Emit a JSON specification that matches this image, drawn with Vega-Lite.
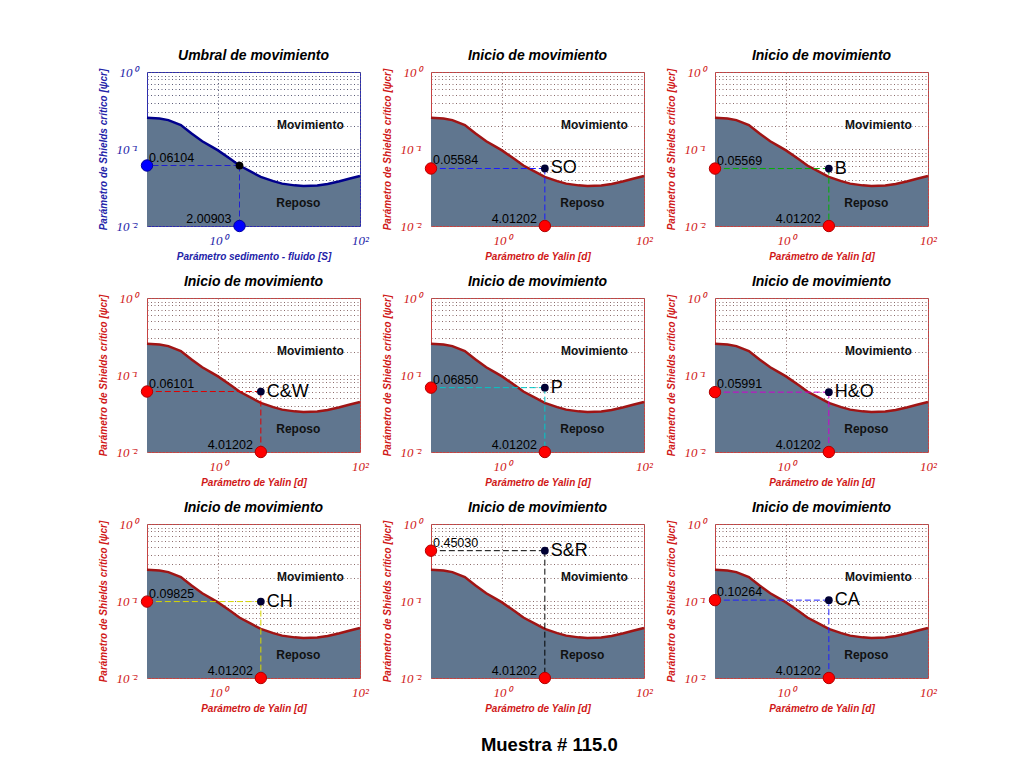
{
"$schema": "https://vega.github.io/schema/vega-lite/v6.json",
"background": "white",
"padding": {"left": 97, "top": 48, "right": 5, "bottom": 5},
"title": {"text": "Muestra # 115.0", "orient": "bottom", "anchor": "middle", "fontSize": 18.5, "fontStyle": "normal", "fontWeight": "bold", "offset": 22, "dx": 32},
"datasets": {
 "curve": [
  {"x": 0.1, "y": 0.255}, {"x": 0.15, "y": 0.249}, {"x": 0.2, "y": 0.237}, {"x": 0.3, "y": 0.205},
  {"x": 0.42, "y": 0.16}, {"x": 0.6, "y": 0.126}, {"x": 0.8, "y": 0.108}, {"x": 1.0, "y": 0.096},
  {"x": 1.5, "y": 0.074}, {"x": 2.0, "y": 0.061}, {"x": 3.0, "y": 0.05}, {"x": 4.0, "y": 0.0435},
  {"x": 6, "y": 0.0383}, {"x": 8, "y": 0.0355}, {"x": 12, "y": 0.0337}, {"x": 16, "y": 0.0331},
  {"x": 25, "y": 0.0335}, {"x": 35, "y": 0.0352}, {"x": 50, "y": 0.0378}, {"x": 70, "y": 0.041},
  {"x": 100, "y": 0.0446}
 ],
 "zones": [
  {"x": 20, "y": 0.205, "t": "Movimiento"},
  {"x": 13.5, "y": 0.0198, "t": "Reposo"}
 ],
 "pts": [
  {"p": 1, "x": 2.00903, "y": 0.06104, "name": ""},
  {"p": 2, "x": 4.01202, "y": 0.05584, "name": "SO"},
  {"p": 3, "x": 4.01202, "y": 0.05569, "name": "B"},
  {"p": 4, "x": 4.01202, "y": 0.06101, "name": "C&W"},
  {"p": 5, "x": 4.01202, "y": 0.0685, "name": "P"},
  {"p": 6, "x": 4.01202, "y": 0.05991, "name": "H&O"},
  {"p": 7, "x": 4.01202, "y": 0.09825, "name": "CH"},
  {"p": 8, "x": 4.01202, "y": 0.4503, "name": "S&R"},
  {"p": 9, "x": 4.01202, "y": 0.10264, "name": "CA"}
 ]
},
"columns": 3,
"spacing": {"row": 72, "column": 71},
"bounds": "flush",
"concat": [
{"width": 213, "height": 154, "title": "Umbral de movimiento", "view": {"stroke": "#2a2ab0"},
 "layer": [
  {"data": {"name": "curve"}, "mark": {"type": "area", "color": "#60768f", "opacity": 1},
   "encoding": {
    "x": {"field": "x", "type": "quantitative", "scale": {"type": "log", "domain": [0.1, 100]}, "axis": {"title": "Parámetro sedimento - fluido [S]", "values": [1, 100], "labelExpr": "datum.value == 1 ? '10⁰' : '10²'", "grid": true, "labelColor": "#2323a8", "titleColor": "#2323a8", "gridColor": "#5c5c78"}},
    "y": {"field": "y", "type": "quantitative", "scale": {"type": "log", "domain": [0.01, 1]}, "axis": {"title": "Parámetro de Shields crítico [ψcr]", "values": [0.01,0.02,0.03,0.04,0.05,0.06,0.07,0.08,0.09,0.1,0.2,0.3,0.4,0.5,0.6,0.7,0.8,0.9,1], "labelExpr": "datum.value == 1 ? '10⁰' : datum.value == 0.1 ? '10⁻¹' : datum.value == 0.01 ? '10⁻²' : ''", "grid": true, "labelColor": "#2323a8", "titleColor": "#2323a8", "gridColor": "#5c5c78"}},
    "y2": {"datum": 0.01}}},
  {"data": {"name": "curve"}, "mark": {"type": "line", "color": "#00008c", "strokeWidth": 2.5}, "encoding": {"x": {"field": "x", "type": "quantitative"}, "y": {"field": "y", "type": "quantitative"}}},
  {"data": {"name": "zones"}, "mark": {"type": "text", "fontWeight": "bold", "fontSize": 12, "color": "#111"}, "encoding": {"x": {"field": "x", "type": "quantitative"}, "y": {"field": "y", "type": "quantitative"}, "text": {"field": "t", "type": "nominal"}}},
  {"data": {"name": "pts"}, "transform": [{"filter": "datum.p == 1"}], "mark": {"type": "rule", "color": "#2020d0", "strokeDash": [6, 3], "strokeWidth": 1}, "encoding": {"x": {"field": "x", "type": "quantitative"}, "x2": {"datum": 0.1}, "y": {"field": "y", "type": "quantitative"}}},
  {"data": {"name": "pts"}, "transform": [{"filter": "datum.p == 1"}], "mark": {"type": "rule", "color": "#2020d0", "strokeDash": [6, 3], "strokeWidth": 1}, "encoding": {"x": {"field": "x", "type": "quantitative"}, "y": {"field": "y", "type": "quantitative"}, "y2": {"datum": 0.01}}},
  {"data": {"name": "pts"}, "transform": [{"filter": "datum.p == 1"}], "mark": {"type": "circle", "color": "#0000ff", "size": 130, "opacity": 1, "stroke": "#0000a0", "strokeWidth": 1}, "encoding": {"x": {"datum": 0.1, "type": "quantitative"}, "y": {"field": "y", "type": "quantitative"}}},
  {"data": {"name": "pts"}, "transform": [{"filter": "datum.p == 1"}], "mark": {"type": "circle", "color": "#0000ff", "size": 130, "opacity": 1, "stroke": "#0000a0", "strokeWidth": 1}, "encoding": {"x": {"field": "x", "type": "quantitative"}, "y": {"datum": 0.01, "type": "quantitative"}}},
  {"data": {"name": "pts"}, "transform": [{"filter": "datum.p == 1"}], "mark": {"type": "circle", "color": "#000000", "size": 60, "opacity": 1}, "encoding": {"x": {"field": "x", "type": "quantitative"}, "y": {"field": "y", "type": "quantitative"}}},
  {"data": {"name": "pts"}, "transform": [{"filter": "datum.p == 1"}], "mark": {"type": "text", "align": "left", "baseline": "bottom", "dx": 2, "dy": -1, "fontSize": 12.5, "color": "#000"}, "encoding": {"x": {"datum": 0.1, "type": "quantitative"}, "y": {"field": "y", "type": "quantitative"}, "text": {"field": "y", "type": "quantitative", "format": ".5f"}}},
  {"data": {"name": "pts"}, "transform": [{"filter": "datum.p == 1"}], "mark": {"type": "text", "align": "right", "baseline": "bottom", "dx": -8, "dy": 0, "fontSize": 12.5, "color": "#000"}, "encoding": {"x": {"field": "x", "type": "quantitative"}, "y": {"datum": 0.01, "type": "quantitative"}, "text": {"field": "x", "type": "quantitative", "format": ".5f"}}}
 ]},
{"width": 213, "height": 154, "title": "Inicio de movimiento",
 "layer": [
  {"data": {"name": "curve"}, "mark": {"type": "area", "color": "#60768f", "opacity": 1},
   "encoding": {
    "x": {"field": "x", "type": "quantitative", "scale": {"type": "log", "domain": [0.1, 100]}, "axis": {"title": "Parámetro de Yalin [d]", "values": [1, 100], "labelExpr": "datum.value == 1 ? '10⁰' : '10²'", "grid": true}},
    "y": {"field": "y", "type": "quantitative", "scale": {"type": "log", "domain": [0.01, 1]}, "axis": {"title": "Parámetro de Shields crítico [ψcr]", "values": [0.01,0.02,0.03,0.04,0.05,0.06,0.07,0.08,0.09,0.1,0.2,0.3,0.4,0.5,0.6,0.7,0.8,0.9,1], "labelExpr": "datum.value == 1 ? '10⁰' : datum.value == 0.1 ? '10⁻¹' : datum.value == 0.01 ? '10⁻²' : ''", "grid": true}},
    "y2": {"datum": 0.01}}},
  {"data": {"name": "curve"}, "mark": {"type": "line", "color": "#a01414", "strokeWidth": 2.5}, "encoding": {"x": {"field": "x", "type": "quantitative"}, "y": {"field": "y", "type": "quantitative"}}},
  {"data": {"name": "zones"}, "mark": {"type": "text", "fontWeight": "bold", "fontSize": 12, "color": "#111"}, "encoding": {"x": {"field": "x", "type": "quantitative"}, "y": {"field": "y", "type": "quantitative"}, "text": {"field": "t", "type": "nominal"}}},
  {"data": {"name": "pts"}, "transform": [{"filter": "datum.p == 2"}], "mark": {"type": "rule", "color": "#1a1aff", "strokeDash": [6, 3], "strokeWidth": 1}, "encoding": {"x": {"field": "x", "type": "quantitative"}, "x2": {"datum": 0.1}, "y": {"field": "y", "type": "quantitative"}}},
  {"data": {"name": "pts"}, "transform": [{"filter": "datum.p == 2"}], "mark": {"type": "rule", "color": "#1a1aff", "strokeDash": [6, 3], "strokeWidth": 1}, "encoding": {"x": {"field": "x", "type": "quantitative"}, "y": {"field": "y", "type": "quantitative"}, "y2": {"datum": 0.01}}},
  {"data": {"name": "pts"}, "transform": [{"filter": "datum.p == 2"}], "mark": {"type": "circle", "color": "#ff0000", "size": 130, "opacity": 1, "stroke": "#b00000", "strokeWidth": 1}, "encoding": {"x": {"datum": 0.1, "type": "quantitative"}, "y": {"field": "y", "type": "quantitative"}}},
  {"data": {"name": "pts"}, "transform": [{"filter": "datum.p == 2"}], "mark": {"type": "circle", "color": "#ff0000", "size": 130, "opacity": 1, "stroke": "#b00000", "strokeWidth": 1}, "encoding": {"x": {"field": "x", "type": "quantitative"}, "y": {"datum": 0.01, "type": "quantitative"}}},
  {"data": {"name": "pts"}, "transform": [{"filter": "datum.p == 2"}], "mark": {"type": "circle", "color": "#000033", "size": 60, "opacity": 1}, "encoding": {"x": {"field": "x", "type": "quantitative"}, "y": {"field": "y", "type": "quantitative"}}},
  {"data": {"name": "pts"}, "transform": [{"filter": "datum.p == 2"}], "mark": {"type": "text", "align": "left", "dx": 6, "fontSize": 18, "color": "#000"}, "encoding": {"x": {"field": "x", "type": "quantitative"}, "y": {"field": "y", "type": "quantitative"}, "text": {"field": "name", "type": "nominal"}}},
  {"data": {"name": "pts"}, "transform": [{"filter": "datum.p == 2"}], "mark": {"type": "text", "align": "left", "baseline": "bottom", "dx": 2, "dy": -1, "fontSize": 12.5, "color": "#000"}, "encoding": {"x": {"datum": 0.1, "type": "quantitative"}, "y": {"field": "y", "type": "quantitative"}, "text": {"field": "y", "type": "quantitative", "format": ".5f"}}},
  {"data": {"name": "pts"}, "transform": [{"filter": "datum.p == 2"}], "mark": {"type": "text", "align": "right", "baseline": "bottom", "dx": -8, "dy": 0, "fontSize": 12.5, "color": "#000"}, "encoding": {"x": {"field": "x", "type": "quantitative"}, "y": {"datum": 0.01, "type": "quantitative"}, "text": {"field": "x", "type": "quantitative", "format": ".5f"}}}
 ]},
{"width": 213, "height": 154, "title": "Inicio de movimiento",
 "layer": [
  {"data": {"name": "curve"}, "mark": {"type": "area", "color": "#60768f", "opacity": 1},
   "encoding": {
    "x": {"field": "x", "type": "quantitative", "scale": {"type": "log", "domain": [0.1, 100]}, "axis": {"title": "Parámetro de Yalin [d]", "values": [1, 100], "labelExpr": "datum.value == 1 ? '10⁰' : '10²'", "grid": true}},
    "y": {"field": "y", "type": "quantitative", "scale": {"type": "log", "domain": [0.01, 1]}, "axis": {"title": "Parámetro de Shields crítico [ψcr]", "values": [0.01,0.02,0.03,0.04,0.05,0.06,0.07,0.08,0.09,0.1,0.2,0.3,0.4,0.5,0.6,0.7,0.8,0.9,1], "labelExpr": "datum.value == 1 ? '10⁰' : datum.value == 0.1 ? '10⁻¹' : datum.value == 0.01 ? '10⁻²' : ''", "grid": true}},
    "y2": {"datum": 0.01}}},
  {"data": {"name": "curve"}, "mark": {"type": "line", "color": "#a01414", "strokeWidth": 2.5}, "encoding": {"x": {"field": "x", "type": "quantitative"}, "y": {"field": "y", "type": "quantitative"}}},
  {"data": {"name": "zones"}, "mark": {"type": "text", "fontWeight": "bold", "fontSize": 12, "color": "#111"}, "encoding": {"x": {"field": "x", "type": "quantitative"}, "y": {"field": "y", "type": "quantitative"}, "text": {"field": "t", "type": "nominal"}}},
  {"data": {"name": "pts"}, "transform": [{"filter": "datum.p == 3"}], "mark": {"type": "rule", "color": "#00b000", "strokeDash": [6, 3], "strokeWidth": 1}, "encoding": {"x": {"field": "x", "type": "quantitative"}, "x2": {"datum": 0.1}, "y": {"field": "y", "type": "quantitative"}}},
  {"data": {"name": "pts"}, "transform": [{"filter": "datum.p == 3"}], "mark": {"type": "rule", "color": "#00b000", "strokeDash": [6, 3], "strokeWidth": 1}, "encoding": {"x": {"field": "x", "type": "quantitative"}, "y": {"field": "y", "type": "quantitative"}, "y2": {"datum": 0.01}}},
  {"data": {"name": "pts"}, "transform": [{"filter": "datum.p == 3"}], "mark": {"type": "circle", "color": "#ff0000", "size": 130, "opacity": 1, "stroke": "#b00000", "strokeWidth": 1}, "encoding": {"x": {"datum": 0.1, "type": "quantitative"}, "y": {"field": "y", "type": "quantitative"}}},
  {"data": {"name": "pts"}, "transform": [{"filter": "datum.p == 3"}], "mark": {"type": "circle", "color": "#ff0000", "size": 130, "opacity": 1, "stroke": "#b00000", "strokeWidth": 1}, "encoding": {"x": {"field": "x", "type": "quantitative"}, "y": {"datum": 0.01, "type": "quantitative"}}},
  {"data": {"name": "pts"}, "transform": [{"filter": "datum.p == 3"}], "mark": {"type": "circle", "color": "#000033", "size": 60, "opacity": 1}, "encoding": {"x": {"field": "x", "type": "quantitative"}, "y": {"field": "y", "type": "quantitative"}}},
  {"data": {"name": "pts"}, "transform": [{"filter": "datum.p == 3"}], "mark": {"type": "text", "align": "left", "dx": 6, "fontSize": 18, "color": "#000"}, "encoding": {"x": {"field": "x", "type": "quantitative"}, "y": {"field": "y", "type": "quantitative"}, "text": {"field": "name", "type": "nominal"}}},
  {"data": {"name": "pts"}, "transform": [{"filter": "datum.p == 3"}], "mark": {"type": "text", "align": "left", "baseline": "bottom", "dx": 2, "dy": -1, "fontSize": 12.5, "color": "#000"}, "encoding": {"x": {"datum": 0.1, "type": "quantitative"}, "y": {"field": "y", "type": "quantitative"}, "text": {"field": "y", "type": "quantitative", "format": ".5f"}}},
  {"data": {"name": "pts"}, "transform": [{"filter": "datum.p == 3"}], "mark": {"type": "text", "align": "right", "baseline": "bottom", "dx": -8, "dy": 0, "fontSize": 12.5, "color": "#000"}, "encoding": {"x": {"field": "x", "type": "quantitative"}, "y": {"datum": 0.01, "type": "quantitative"}, "text": {"field": "x", "type": "quantitative", "format": ".5f"}}}
 ]},
{"width": 213, "height": 154, "title": "Inicio de movimiento",
 "layer": [
  {"data": {"name": "curve"}, "mark": {"type": "area", "color": "#60768f", "opacity": 1},
   "encoding": {
    "x": {"field": "x", "type": "quantitative", "scale": {"type": "log", "domain": [0.1, 100]}, "axis": {"title": "Parámetro de Yalin [d]", "values": [1, 100], "labelExpr": "datum.value == 1 ? '10⁰' : '10²'", "grid": true}},
    "y": {"field": "y", "type": "quantitative", "scale": {"type": "log", "domain": [0.01, 1]}, "axis": {"title": "Parámetro de Shields crítico [ψcr]", "values": [0.01,0.02,0.03,0.04,0.05,0.06,0.07,0.08,0.09,0.1,0.2,0.3,0.4,0.5,0.6,0.7,0.8,0.9,1], "labelExpr": "datum.value == 1 ? '10⁰' : datum.value == 0.1 ? '10⁻¹' : datum.value == 0.01 ? '10⁻²' : ''", "grid": true}},
    "y2": {"datum": 0.01}}},
  {"data": {"name": "curve"}, "mark": {"type": "line", "color": "#a01414", "strokeWidth": 2.5}, "encoding": {"x": {"field": "x", "type": "quantitative"}, "y": {"field": "y", "type": "quantitative"}}},
  {"data": {"name": "zones"}, "mark": {"type": "text", "fontWeight": "bold", "fontSize": 12, "color": "#111"}, "encoding": {"x": {"field": "x", "type": "quantitative"}, "y": {"field": "y", "type": "quantitative"}, "text": {"field": "t", "type": "nominal"}}},
  {"data": {"name": "pts"}, "transform": [{"filter": "datum.p == 4"}], "mark": {"type": "rule", "color": "#e00000", "strokeDash": [6, 3], "strokeWidth": 1}, "encoding": {"x": {"field": "x", "type": "quantitative"}, "x2": {"datum": 0.1}, "y": {"field": "y", "type": "quantitative"}}},
  {"data": {"name": "pts"}, "transform": [{"filter": "datum.p == 4"}], "mark": {"type": "rule", "color": "#e00000", "strokeDash": [6, 3], "strokeWidth": 1}, "encoding": {"x": {"field": "x", "type": "quantitative"}, "y": {"field": "y", "type": "quantitative"}, "y2": {"datum": 0.01}}},
  {"data": {"name": "pts"}, "transform": [{"filter": "datum.p == 4"}], "mark": {"type": "circle", "color": "#ff0000", "size": 130, "opacity": 1, "stroke": "#b00000", "strokeWidth": 1}, "encoding": {"x": {"datum": 0.1, "type": "quantitative"}, "y": {"field": "y", "type": "quantitative"}}},
  {"data": {"name": "pts"}, "transform": [{"filter": "datum.p == 4"}], "mark": {"type": "circle", "color": "#ff0000", "size": 130, "opacity": 1, "stroke": "#b00000", "strokeWidth": 1}, "encoding": {"x": {"field": "x", "type": "quantitative"}, "y": {"datum": 0.01, "type": "quantitative"}}},
  {"data": {"name": "pts"}, "transform": [{"filter": "datum.p == 4"}], "mark": {"type": "circle", "color": "#000033", "size": 60, "opacity": 1}, "encoding": {"x": {"field": "x", "type": "quantitative"}, "y": {"field": "y", "type": "quantitative"}}},
  {"data": {"name": "pts"}, "transform": [{"filter": "datum.p == 4"}], "mark": {"type": "text", "align": "left", "dx": 6, "fontSize": 18, "color": "#000"}, "encoding": {"x": {"field": "x", "type": "quantitative"}, "y": {"field": "y", "type": "quantitative"}, "text": {"field": "name", "type": "nominal"}}},
  {"data": {"name": "pts"}, "transform": [{"filter": "datum.p == 4"}], "mark": {"type": "text", "align": "left", "baseline": "bottom", "dx": 2, "dy": -1, "fontSize": 12.5, "color": "#000"}, "encoding": {"x": {"datum": 0.1, "type": "quantitative"}, "y": {"field": "y", "type": "quantitative"}, "text": {"field": "y", "type": "quantitative", "format": ".5f"}}},
  {"data": {"name": "pts"}, "transform": [{"filter": "datum.p == 4"}], "mark": {"type": "text", "align": "right", "baseline": "bottom", "dx": -8, "dy": 0, "fontSize": 12.5, "color": "#000"}, "encoding": {"x": {"field": "x", "type": "quantitative"}, "y": {"datum": 0.01, "type": "quantitative"}, "text": {"field": "x", "type": "quantitative", "format": ".5f"}}}
 ]},
{"width": 213, "height": 154, "title": "Inicio de movimiento",
 "layer": [
  {"data": {"name": "curve"}, "mark": {"type": "area", "color": "#60768f", "opacity": 1},
   "encoding": {
    "x": {"field": "x", "type": "quantitative", "scale": {"type": "log", "domain": [0.1, 100]}, "axis": {"title": "Parámetro de Yalin [d]", "values": [1, 100], "labelExpr": "datum.value == 1 ? '10⁰' : '10²'", "grid": true}},
    "y": {"field": "y", "type": "quantitative", "scale": {"type": "log", "domain": [0.01, 1]}, "axis": {"title": "Parámetro de Shields crítico [ψcr]", "values": [0.01,0.02,0.03,0.04,0.05,0.06,0.07,0.08,0.09,0.1,0.2,0.3,0.4,0.5,0.6,0.7,0.8,0.9,1], "labelExpr": "datum.value == 1 ? '10⁰' : datum.value == 0.1 ? '10⁻¹' : datum.value == 0.01 ? '10⁻²' : ''", "grid": true}},
    "y2": {"datum": 0.01}}},
  {"data": {"name": "curve"}, "mark": {"type": "line", "color": "#a01414", "strokeWidth": 2.5}, "encoding": {"x": {"field": "x", "type": "quantitative"}, "y": {"field": "y", "type": "quantitative"}}},
  {"data": {"name": "zones"}, "mark": {"type": "text", "fontWeight": "bold", "fontSize": 12, "color": "#111"}, "encoding": {"x": {"field": "x", "type": "quantitative"}, "y": {"field": "y", "type": "quantitative"}, "text": {"field": "t", "type": "nominal"}}},
  {"data": {"name": "pts"}, "transform": [{"filter": "datum.p == 5"}], "mark": {"type": "rule", "color": "#00c8c8", "strokeDash": [6, 3], "strokeWidth": 1}, "encoding": {"x": {"field": "x", "type": "quantitative"}, "x2": {"datum": 0.1}, "y": {"field": "y", "type": "quantitative"}}},
  {"data": {"name": "pts"}, "transform": [{"filter": "datum.p == 5"}], "mark": {"type": "rule", "color": "#00c8c8", "strokeDash": [6, 3], "strokeWidth": 1}, "encoding": {"x": {"field": "x", "type": "quantitative"}, "y": {"field": "y", "type": "quantitative"}, "y2": {"datum": 0.01}}},
  {"data": {"name": "pts"}, "transform": [{"filter": "datum.p == 5"}], "mark": {"type": "circle", "color": "#ff0000", "size": 130, "opacity": 1, "stroke": "#b00000", "strokeWidth": 1}, "encoding": {"x": {"datum": 0.1, "type": "quantitative"}, "y": {"field": "y", "type": "quantitative"}}},
  {"data": {"name": "pts"}, "transform": [{"filter": "datum.p == 5"}], "mark": {"type": "circle", "color": "#ff0000", "size": 130, "opacity": 1, "stroke": "#b00000", "strokeWidth": 1}, "encoding": {"x": {"field": "x", "type": "quantitative"}, "y": {"datum": 0.01, "type": "quantitative"}}},
  {"data": {"name": "pts"}, "transform": [{"filter": "datum.p == 5"}], "mark": {"type": "circle", "color": "#000033", "size": 60, "opacity": 1}, "encoding": {"x": {"field": "x", "type": "quantitative"}, "y": {"field": "y", "type": "quantitative"}}},
  {"data": {"name": "pts"}, "transform": [{"filter": "datum.p == 5"}], "mark": {"type": "text", "align": "left", "dx": 6, "fontSize": 18, "color": "#000"}, "encoding": {"x": {"field": "x", "type": "quantitative"}, "y": {"field": "y", "type": "quantitative"}, "text": {"field": "name", "type": "nominal"}}},
  {"data": {"name": "pts"}, "transform": [{"filter": "datum.p == 5"}], "mark": {"type": "text", "align": "left", "baseline": "bottom", "dx": 2, "dy": -1, "fontSize": 12.5, "color": "#000"}, "encoding": {"x": {"datum": 0.1, "type": "quantitative"}, "y": {"field": "y", "type": "quantitative"}, "text": {"field": "y", "type": "quantitative", "format": ".5f"}}},
  {"data": {"name": "pts"}, "transform": [{"filter": "datum.p == 5"}], "mark": {"type": "text", "align": "right", "baseline": "bottom", "dx": -8, "dy": 0, "fontSize": 12.5, "color": "#000"}, "encoding": {"x": {"field": "x", "type": "quantitative"}, "y": {"datum": 0.01, "type": "quantitative"}, "text": {"field": "x", "type": "quantitative", "format": ".5f"}}}
 ]},
{"width": 213, "height": 154, "title": "Inicio de movimiento",
 "layer": [
  {"data": {"name": "curve"}, "mark": {"type": "area", "color": "#60768f", "opacity": 1},
   "encoding": {
    "x": {"field": "x", "type": "quantitative", "scale": {"type": "log", "domain": [0.1, 100]}, "axis": {"title": "Parámetro de Yalin [d]", "values": [1, 100], "labelExpr": "datum.value == 1 ? '10⁰' : '10²'", "grid": true}},
    "y": {"field": "y", "type": "quantitative", "scale": {"type": "log", "domain": [0.01, 1]}, "axis": {"title": "Parámetro de Shields crítico [ψcr]", "values": [0.01,0.02,0.03,0.04,0.05,0.06,0.07,0.08,0.09,0.1,0.2,0.3,0.4,0.5,0.6,0.7,0.8,0.9,1], "labelExpr": "datum.value == 1 ? '10⁰' : datum.value == 0.1 ? '10⁻¹' : datum.value == 0.01 ? '10⁻²' : ''", "grid": true}},
    "y2": {"datum": 0.01}}},
  {"data": {"name": "curve"}, "mark": {"type": "line", "color": "#a01414", "strokeWidth": 2.5}, "encoding": {"x": {"field": "x", "type": "quantitative"}, "y": {"field": "y", "type": "quantitative"}}},
  {"data": {"name": "zones"}, "mark": {"type": "text", "fontWeight": "bold", "fontSize": 12, "color": "#111"}, "encoding": {"x": {"field": "x", "type": "quantitative"}, "y": {"field": "y", "type": "quantitative"}, "text": {"field": "t", "type": "nominal"}}},
  {"data": {"name": "pts"}, "transform": [{"filter": "datum.p == 6"}], "mark": {"type": "rule", "color": "#d000d0", "strokeDash": [6, 3], "strokeWidth": 1}, "encoding": {"x": {"field": "x", "type": "quantitative"}, "x2": {"datum": 0.1}, "y": {"field": "y", "type": "quantitative"}}},
  {"data": {"name": "pts"}, "transform": [{"filter": "datum.p == 6"}], "mark": {"type": "rule", "color": "#d000d0", "strokeDash": [6, 3], "strokeWidth": 1}, "encoding": {"x": {"field": "x", "type": "quantitative"}, "y": {"field": "y", "type": "quantitative"}, "y2": {"datum": 0.01}}},
  {"data": {"name": "pts"}, "transform": [{"filter": "datum.p == 6"}], "mark": {"type": "circle", "color": "#ff0000", "size": 130, "opacity": 1, "stroke": "#b00000", "strokeWidth": 1}, "encoding": {"x": {"datum": 0.1, "type": "quantitative"}, "y": {"field": "y", "type": "quantitative"}}},
  {"data": {"name": "pts"}, "transform": [{"filter": "datum.p == 6"}], "mark": {"type": "circle", "color": "#ff0000", "size": 130, "opacity": 1, "stroke": "#b00000", "strokeWidth": 1}, "encoding": {"x": {"field": "x", "type": "quantitative"}, "y": {"datum": 0.01, "type": "quantitative"}}},
  {"data": {"name": "pts"}, "transform": [{"filter": "datum.p == 6"}], "mark": {"type": "circle", "color": "#000033", "size": 60, "opacity": 1}, "encoding": {"x": {"field": "x", "type": "quantitative"}, "y": {"field": "y", "type": "quantitative"}}},
  {"data": {"name": "pts"}, "transform": [{"filter": "datum.p == 6"}], "mark": {"type": "text", "align": "left", "dx": 6, "fontSize": 18, "color": "#000"}, "encoding": {"x": {"field": "x", "type": "quantitative"}, "y": {"field": "y", "type": "quantitative"}, "text": {"field": "name", "type": "nominal"}}},
  {"data": {"name": "pts"}, "transform": [{"filter": "datum.p == 6"}], "mark": {"type": "text", "align": "left", "baseline": "bottom", "dx": 2, "dy": -1, "fontSize": 12.5, "color": "#000"}, "encoding": {"x": {"datum": 0.1, "type": "quantitative"}, "y": {"field": "y", "type": "quantitative"}, "text": {"field": "y", "type": "quantitative", "format": ".5f"}}},
  {"data": {"name": "pts"}, "transform": [{"filter": "datum.p == 6"}], "mark": {"type": "text", "align": "right", "baseline": "bottom", "dx": -8, "dy": 0, "fontSize": 12.5, "color": "#000"}, "encoding": {"x": {"field": "x", "type": "quantitative"}, "y": {"datum": 0.01, "type": "quantitative"}, "text": {"field": "x", "type": "quantitative", "format": ".5f"}}}
 ]},
{"width": 213, "height": 154, "title": "Inicio de movimiento",
 "layer": [
  {"data": {"name": "curve"}, "mark": {"type": "area", "color": "#60768f", "opacity": 1},
   "encoding": {
    "x": {"field": "x", "type": "quantitative", "scale": {"type": "log", "domain": [0.1, 100]}, "axis": {"title": "Parámetro de Yalin [d]", "values": [1, 100], "labelExpr": "datum.value == 1 ? '10⁰' : '10²'", "grid": true}},
    "y": {"field": "y", "type": "quantitative", "scale": {"type": "log", "domain": [0.01, 1]}, "axis": {"title": "Parámetro de Shields crítico [ψcr]", "values": [0.01,0.02,0.03,0.04,0.05,0.06,0.07,0.08,0.09,0.1,0.2,0.3,0.4,0.5,0.6,0.7,0.8,0.9,1], "labelExpr": "datum.value == 1 ? '10⁰' : datum.value == 0.1 ? '10⁻¹' : datum.value == 0.01 ? '10⁻²' : ''", "grid": true}},
    "y2": {"datum": 0.01}}},
  {"data": {"name": "curve"}, "mark": {"type": "line", "color": "#a01414", "strokeWidth": 2.5}, "encoding": {"x": {"field": "x", "type": "quantitative"}, "y": {"field": "y", "type": "quantitative"}}},
  {"data": {"name": "zones"}, "mark": {"type": "text", "fontWeight": "bold", "fontSize": 12, "color": "#111"}, "encoding": {"x": {"field": "x", "type": "quantitative"}, "y": {"field": "y", "type": "quantitative"}, "text": {"field": "t", "type": "nominal"}}},
  {"data": {"name": "pts"}, "transform": [{"filter": "datum.p == 7"}], "mark": {"type": "rule", "color": "#d8d800", "strokeDash": [6, 3], "strokeWidth": 1}, "encoding": {"x": {"field": "x", "type": "quantitative"}, "x2": {"datum": 0.1}, "y": {"field": "y", "type": "quantitative"}}},
  {"data": {"name": "pts"}, "transform": [{"filter": "datum.p == 7"}], "mark": {"type": "rule", "color": "#d8d800", "strokeDash": [6, 3], "strokeWidth": 1}, "encoding": {"x": {"field": "x", "type": "quantitative"}, "y": {"field": "y", "type": "quantitative"}, "y2": {"datum": 0.01}}},
  {"data": {"name": "pts"}, "transform": [{"filter": "datum.p == 7"}], "mark": {"type": "circle", "color": "#ff0000", "size": 130, "opacity": 1, "stroke": "#b00000", "strokeWidth": 1}, "encoding": {"x": {"datum": 0.1, "type": "quantitative"}, "y": {"field": "y", "type": "quantitative"}}},
  {"data": {"name": "pts"}, "transform": [{"filter": "datum.p == 7"}], "mark": {"type": "circle", "color": "#ff0000", "size": 130, "opacity": 1, "stroke": "#b00000", "strokeWidth": 1}, "encoding": {"x": {"field": "x", "type": "quantitative"}, "y": {"datum": 0.01, "type": "quantitative"}}},
  {"data": {"name": "pts"}, "transform": [{"filter": "datum.p == 7"}], "mark": {"type": "circle", "color": "#000033", "size": 60, "opacity": 1}, "encoding": {"x": {"field": "x", "type": "quantitative"}, "y": {"field": "y", "type": "quantitative"}}},
  {"data": {"name": "pts"}, "transform": [{"filter": "datum.p == 7"}], "mark": {"type": "text", "align": "left", "dx": 6, "fontSize": 18, "color": "#000"}, "encoding": {"x": {"field": "x", "type": "quantitative"}, "y": {"field": "y", "type": "quantitative"}, "text": {"field": "name", "type": "nominal"}}},
  {"data": {"name": "pts"}, "transform": [{"filter": "datum.p == 7"}], "mark": {"type": "text", "align": "left", "baseline": "bottom", "dx": 2, "dy": -1, "fontSize": 12.5, "color": "#000"}, "encoding": {"x": {"datum": 0.1, "type": "quantitative"}, "y": {"field": "y", "type": "quantitative"}, "text": {"field": "y", "type": "quantitative", "format": ".5f"}}},
  {"data": {"name": "pts"}, "transform": [{"filter": "datum.p == 7"}], "mark": {"type": "text", "align": "right", "baseline": "bottom", "dx": -8, "dy": 0, "fontSize": 12.5, "color": "#000"}, "encoding": {"x": {"field": "x", "type": "quantitative"}, "y": {"datum": 0.01, "type": "quantitative"}, "text": {"field": "x", "type": "quantitative", "format": ".5f"}}}
 ]},
{"width": 213, "height": 154, "title": "Inicio de movimiento",
 "layer": [
  {"data": {"name": "curve"}, "mark": {"type": "area", "color": "#60768f", "opacity": 1},
   "encoding": {
    "x": {"field": "x", "type": "quantitative", "scale": {"type": "log", "domain": [0.1, 100]}, "axis": {"title": "Parámetro de Yalin [d]", "values": [1, 100], "labelExpr": "datum.value == 1 ? '10⁰' : '10²'", "grid": true}},
    "y": {"field": "y", "type": "quantitative", "scale": {"type": "log", "domain": [0.01, 1]}, "axis": {"title": "Parámetro de Shields crítico [ψcr]", "values": [0.01,0.02,0.03,0.04,0.05,0.06,0.07,0.08,0.09,0.1,0.2,0.3,0.4,0.5,0.6,0.7,0.8,0.9,1], "labelExpr": "datum.value == 1 ? '10⁰' : datum.value == 0.1 ? '10⁻¹' : datum.value == 0.01 ? '10⁻²' : ''", "grid": true}},
    "y2": {"datum": 0.01}}},
  {"data": {"name": "curve"}, "mark": {"type": "line", "color": "#a01414", "strokeWidth": 2.5}, "encoding": {"x": {"field": "x", "type": "quantitative"}, "y": {"field": "y", "type": "quantitative"}}},
  {"data": {"name": "zones"}, "mark": {"type": "text", "fontWeight": "bold", "fontSize": 12, "color": "#111"}, "encoding": {"x": {"field": "x", "type": "quantitative"}, "y": {"field": "y", "type": "quantitative"}, "text": {"field": "t", "type": "nominal"}}},
  {"data": {"name": "pts"}, "transform": [{"filter": "datum.p == 8"}], "mark": {"type": "rule", "color": "#000000", "strokeDash": [6, 3], "strokeWidth": 1}, "encoding": {"x": {"field": "x", "type": "quantitative"}, "x2": {"datum": 0.1}, "y": {"field": "y", "type": "quantitative"}}},
  {"data": {"name": "pts"}, "transform": [{"filter": "datum.p == 8"}], "mark": {"type": "rule", "color": "#000000", "strokeDash": [6, 3], "strokeWidth": 1}, "encoding": {"x": {"field": "x", "type": "quantitative"}, "y": {"field": "y", "type": "quantitative"}, "y2": {"datum": 0.01}}},
  {"data": {"name": "pts"}, "transform": [{"filter": "datum.p == 8"}], "mark": {"type": "circle", "color": "#ff0000", "size": 130, "opacity": 1, "stroke": "#b00000", "strokeWidth": 1}, "encoding": {"x": {"datum": 0.1, "type": "quantitative"}, "y": {"field": "y", "type": "quantitative"}}},
  {"data": {"name": "pts"}, "transform": [{"filter": "datum.p == 8"}], "mark": {"type": "circle", "color": "#ff0000", "size": 130, "opacity": 1, "stroke": "#b00000", "strokeWidth": 1}, "encoding": {"x": {"field": "x", "type": "quantitative"}, "y": {"datum": 0.01, "type": "quantitative"}}},
  {"data": {"name": "pts"}, "transform": [{"filter": "datum.p == 8"}], "mark": {"type": "circle", "color": "#000033", "size": 60, "opacity": 1}, "encoding": {"x": {"field": "x", "type": "quantitative"}, "y": {"field": "y", "type": "quantitative"}}},
  {"data": {"name": "pts"}, "transform": [{"filter": "datum.p == 8"}], "mark": {"type": "text", "align": "left", "dx": 6, "fontSize": 18, "color": "#000"}, "encoding": {"x": {"field": "x", "type": "quantitative"}, "y": {"field": "y", "type": "quantitative"}, "text": {"field": "name", "type": "nominal"}}},
  {"data": {"name": "pts"}, "transform": [{"filter": "datum.p == 8"}], "mark": {"type": "text", "align": "left", "baseline": "bottom", "dx": 2, "dy": -1, "fontSize": 12.5, "color": "#000"}, "encoding": {"x": {"datum": 0.1, "type": "quantitative"}, "y": {"field": "y", "type": "quantitative"}, "text": {"field": "y", "type": "quantitative", "format": ".5f"}}},
  {"data": {"name": "pts"}, "transform": [{"filter": "datum.p == 8"}], "mark": {"type": "text", "align": "right", "baseline": "bottom", "dx": -8, "dy": 0, "fontSize": 12.5, "color": "#000"}, "encoding": {"x": {"field": "x", "type": "quantitative"}, "y": {"datum": 0.01, "type": "quantitative"}, "text": {"field": "x", "type": "quantitative", "format": ".5f"}}}
 ]},
{"width": 213, "height": 154, "title": "Inicio de movimiento",
 "layer": [
  {"data": {"name": "curve"}, "mark": {"type": "area", "color": "#60768f", "opacity": 1},
   "encoding": {
    "x": {"field": "x", "type": "quantitative", "scale": {"type": "log", "domain": [0.1, 100]}, "axis": {"title": "Parámetro de Yalin [d]", "values": [1, 100], "labelExpr": "datum.value == 1 ? '10⁰' : '10²'", "grid": true}},
    "y": {"field": "y", "type": "quantitative", "scale": {"type": "log", "domain": [0.01, 1]}, "axis": {"title": "Parámetro de Shields crítico [ψcr]", "values": [0.01,0.02,0.03,0.04,0.05,0.06,0.07,0.08,0.09,0.1,0.2,0.3,0.4,0.5,0.6,0.7,0.8,0.9,1], "labelExpr": "datum.value == 1 ? '10⁰' : datum.value == 0.1 ? '10⁻¹' : datum.value == 0.01 ? '10⁻²' : ''", "grid": true}},
    "y2": {"datum": 0.01}}},
  {"data": {"name": "curve"}, "mark": {"type": "line", "color": "#a01414", "strokeWidth": 2.5}, "encoding": {"x": {"field": "x", "type": "quantitative"}, "y": {"field": "y", "type": "quantitative"}}},
  {"data": {"name": "zones"}, "mark": {"type": "text", "fontWeight": "bold", "fontSize": 12, "color": "#111"}, "encoding": {"x": {"field": "x", "type": "quantitative"}, "y": {"field": "y", "type": "quantitative"}, "text": {"field": "t", "type": "nominal"}}},
  {"data": {"name": "pts"}, "transform": [{"filter": "datum.p == 9"}], "mark": {"type": "rule", "color": "#2020ff", "strokeDash": [6, 3], "strokeWidth": 1}, "encoding": {"x": {"field": "x", "type": "quantitative"}, "x2": {"datum": 0.1}, "y": {"field": "y", "type": "quantitative"}}},
  {"data": {"name": "pts"}, "transform": [{"filter": "datum.p == 9"}], "mark": {"type": "rule", "color": "#2020ff", "strokeDash": [6, 3], "strokeWidth": 1}, "encoding": {"x": {"field": "x", "type": "quantitative"}, "y": {"field": "y", "type": "quantitative"}, "y2": {"datum": 0.01}}},
  {"data": {"name": "pts"}, "transform": [{"filter": "datum.p == 9"}], "mark": {"type": "circle", "color": "#ff0000", "size": 130, "opacity": 1, "stroke": "#b00000", "strokeWidth": 1}, "encoding": {"x": {"datum": 0.1, "type": "quantitative"}, "y": {"field": "y", "type": "quantitative"}}},
  {"data": {"name": "pts"}, "transform": [{"filter": "datum.p == 9"}], "mark": {"type": "circle", "color": "#ff0000", "size": 130, "opacity": 1, "stroke": "#b00000", "strokeWidth": 1}, "encoding": {"x": {"field": "x", "type": "quantitative"}, "y": {"datum": 0.01, "type": "quantitative"}}},
  {"data": {"name": "pts"}, "transform": [{"filter": "datum.p == 9"}], "mark": {"type": "circle", "color": "#000033", "size": 60, "opacity": 1}, "encoding": {"x": {"field": "x", "type": "quantitative"}, "y": {"field": "y", "type": "quantitative"}}},
  {"data": {"name": "pts"}, "transform": [{"filter": "datum.p == 9"}], "mark": {"type": "text", "align": "left", "dx": 6, "fontSize": 18, "color": "#000"}, "encoding": {"x": {"field": "x", "type": "quantitative"}, "y": {"field": "y", "type": "quantitative"}, "text": {"field": "name", "type": "nominal"}}},
  {"data": {"name": "pts"}, "transform": [{"filter": "datum.p == 9"}], "mark": {"type": "text", "align": "left", "baseline": "bottom", "dx": 2, "dy": -1, "fontSize": 12.5, "color": "#000"}, "encoding": {"x": {"datum": 0.1, "type": "quantitative"}, "y": {"field": "y", "type": "quantitative"}, "text": {"field": "y", "type": "quantitative", "format": ".5f"}}},
  {"data": {"name": "pts"}, "transform": [{"filter": "datum.p == 9"}], "mark": {"type": "text", "align": "right", "baseline": "bottom", "dx": -8, "dy": 0, "fontSize": 12.5, "color": "#000"}, "encoding": {"x": {"field": "x", "type": "quantitative"}, "y": {"datum": 0.01, "type": "quantitative"}, "text": {"field": "x", "type": "quantitative", "format": ".5f"}}}
 ]}
],
"config": {
 "font": "Liberation Sans",
 "view": {"stroke": "#c84040", "strokeWidth": 1},
 "axis": {"ticks": false, "domain": false, "labelFont": "Liberation Serif", "labelFontStyle": "italic", "labelFontSize": 13, "labelColor": "#d01818", "titleFont": "Liberation Sans", "titleFontStyle": "italic", "titleFontWeight": "bold", "titleFontSize": 10, "titleColor": "#d01818", "gridDash": [1, 2.5], "gridColor": "#8c6c6c", "gridOpacity": 1, "labelFlush": false, "labelOverlap": false},
 "axisX": {"labelPadding": 8, "titlePadding": 4},
 "axisY": {"labelPadding": 10, "titlePadding": 8},
 "title": {"fontSize": 14, "fontStyle": "italic", "fontWeight": "bold", "font": "Liberation Sans", "color": "#000", "offset": 3},
 "text": {"font": "Liberation Sans"}
}
}
